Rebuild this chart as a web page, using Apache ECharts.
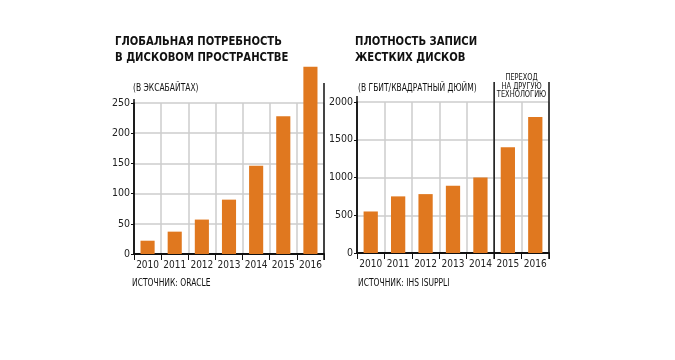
<!DOCTYPE html>
<html>
<head>
<meta charset="utf-8">
<script src="https://cdn.jsdelivr.net/npm/echarts@6/dist/echarts.min.js"></script>
<style>
html,body{margin:0;padding:0;background:#fff;}
#c{width:675px;height:360px;}
</style>
</head>
<body>
<div id="c"></div>
<script>
// ---- Data ----
const years = ['2010','2011','2012','2013','2014','2015','2016'];
const demandValues = [22, 37, 57, 90, 146, 228, 310];          // exabytes
const densityValues = [550, 750, 780, 890, 1000, 1400, 1800];  // Gbit / sq. inch
const demandTicks = { min: 0, max: 250, interval: 50 };
const densityTicks = { min: 0, max: 2000, interval: 500 };

const leftTitle = ['ГЛОБАЛЬНАЯ ПОТРЕБНОСТЬ', 'В ДИСКОВОМ ПРОСТРАНСТВЕ'];
const rightTitle = ['ПЛОТНОСТЬ ЗАПИСИ', 'ЖЕСТКИХ ДИСКОВ'];
const leftUnit = '(В ЭКСАБАЙТАХ)';
const rightUnit = '(В ГБИТ/КВАДРАТНЫЙ ДЮЙМ)';
const techNote = ['ПЕРЕХОД', 'НА ДРУГУЮ', 'ТЕХНОЛОГИЮ'];
const leftSource = 'ИСТОЧНИК: ORACLE';
const rightSource = 'ИСТОЧНИК: IHS ISUPPLI';

const FONT = '"DejaVu Sans Condensed","Liberation Sans Narrow",sans-serif';
const BAR = '#E0781F';
const GRID = '#cccccc';

const chart = echarts.init(document.getElementById('c'), null, {renderer:'canvas'});

function xAxisCfg(idx){
  return {
    type:'category', gridIndex: idx, data: years,
    axisLine:{show:true, lineStyle:{color:'#111', width:2}},
    axisTick:{show:true, interval:0, length:6, lineStyle:{color:'#111', width:1}},
    axisLabel:{interval:0, color:'#222', fontFamily:FONT, fontSize:10, margin:6},
    splitLine:{show:true, interval:0, lineStyle:{color:GRID, width:1.5}}
  };
}
function yAxisCfg(idx, t){
  return {
    type:'value', gridIndex: idx, min:t.min, max:t.max, interval:t.interval,
    axisLine:{show:true, lineStyle:{color:'#111', width:1.5}},
    axisTick:{show:true, length:3, lineStyle:{color:'#111'}},
    axisLabel:{color:'#222', fontFamily:FONT, fontSize:10.5, margin:4, formatter: v => String(v)},
    splitLine:{show:true, lineStyle:{color:GRID, width:1.5}}
  };
}

const option = {
  animation:false,
  backgroundColor:'#fff',
  grid:[
    {left:134, right:351, top:103, bottom:106},
    {left:357, right:126, top:102, bottom:107}
  ],
  xAxis:[xAxisCfg(0), xAxisCfg(1)],
  yAxis:[yAxisCfg(0, demandTicks), yAxisCfg(1, densityTicks)],
  series:[
    {type:'bar', xAxisIndex:0, yAxisIndex:0, data:demandValues, barWidth:'52%', clip:false,
     itemStyle:{color:BAR}},
    {type:'bar', xAxisIndex:1, yAxisIndex:1, data:densityValues, barWidth:'52%', clip:false,
     itemStyle:{color:BAR}}
  ]
};
chart.setOption(option);

// ---- Decorations derived from the axes ----
function px(gridIdx, cat){ return chart.convertToPixel({xAxisIndex:gridIdx}, cat); }
function band(gridIdx){ return px(gridIdx, years[1]) - px(gridIdx, years[0]); }
const yTopL = chart.convertToPixel({yAxisIndex:0}, demandTicks.max);
const yZeroL = chart.convertToPixel({yAxisIndex:0}, 0);
const yTopR = chart.convertToPixel({yAxisIndex:1}, densityTicks.max);
const yZeroR = chart.convertToPixel({yAxisIndex:1}, 0);
const xLeftL = px(0, years[0]) - band(0)/2;
const xLeftR = px(1, years[0]) - band(1)/2;
const edgeL = px(0, years[6]) + band(0)/2;
const edgeR = px(1, years[6]) + band(1)/2;
const sepR = (px(1, '2014') + px(1, '2015'))/2;
const ext = 20;

function vline(x, y1, y2, w){
  return {type:'line', shape:{x1:x, y1:y1, x2:x, y2:y2}, style:{stroke:'#111', lineWidth:w||1.5}, z:100};
}
function txt(x, y, s, size, bold, sx, align){
  return {type:'text', x:x, y:y, scaleX:sx||1,
    style:{text:s, fill:'#111', font:(bold?'bold ':'')+size+'px '+FONT, textAlign:align||'left', textVerticalAlign:'middle'}, z:100};
}

const g = [
  vline(edgeL, yTopL-ext, yZeroL+6),
  vline(edgeR, yTopR-ext, yZeroR+6),
  vline(sepR, yTopR-ext, yZeroR+6),
  vline(xLeftL, yTopL-4, yZeroL),
  vline(xLeftR, yTopR-6, yZeroR),
  txt(115, 41.5, leftTitle[0], 13, true, 0.86),
  txt(115, 57.5, leftTitle[1], 13, true, 0.86),
  txt(355, 41.5, rightTitle[0], 13, true, 0.86),
  txt(355, 57.5, rightTitle[1], 13, true, 0.86),
  txt(133, 88, leftUnit, 10.5, false, 0.8),
  txt(358, 88, rightUnit, 10.5, false, 0.8),
  txt((sepR+edgeR)/2, 78, techNote[0], 9, false, 0.82, 'center'),
  txt((sepR+edgeR)/2, 86.5, techNote[1], 9, false, 0.82, 'center'),
  txt((sepR+edgeR)/2, 95, techNote[2], 9, false, 0.82, 'center'),
  txt(132, 283, leftSource, 10.5, false, 0.8),
  txt(358, 283, rightSource, 10.5, false, 0.8)
];
chart.setOption({graphic: g});
</script>
</body>
</html>
